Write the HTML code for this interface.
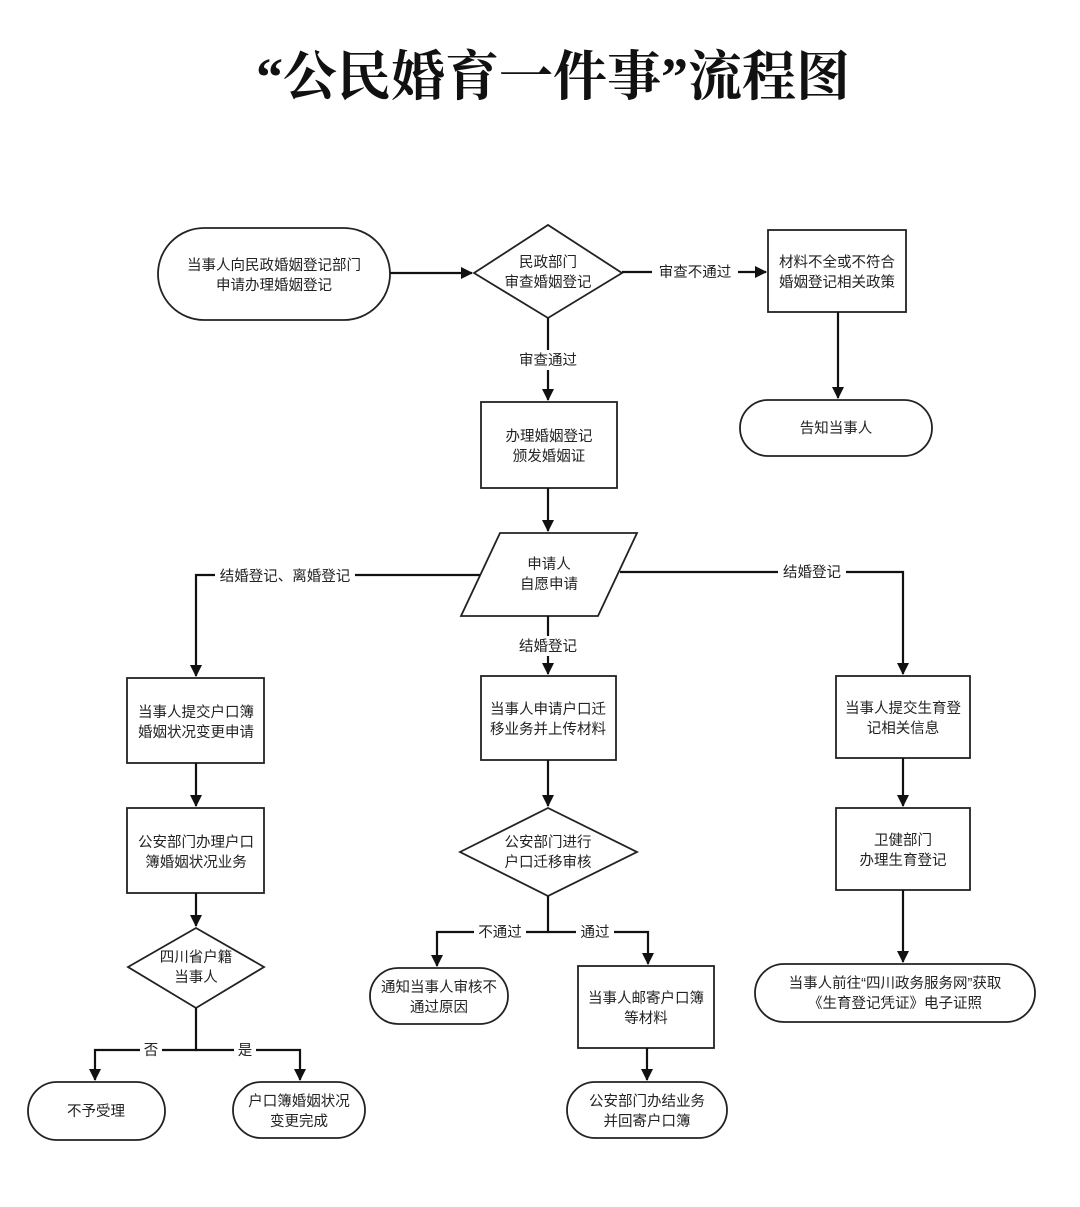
<!DOCTYPE html>
<html><head><meta charset="utf-8"><style>
html,body{margin:0;padding:0;background:#fff;}
svg{display:block;}
text{font-family:"Liberation Sans","Noto Sans CJK SC",sans-serif;font-size:14.5px;fill:#222;}
.t{font-family:"Liberation Serif","Noto Serif CJK SC",serif;font-size:54px;font-weight:bold;fill:#111;}
</style></head><body>
<svg width="1080" height="1207" viewBox="0 0 1080 1207" xmlns="http://www.w3.org/2000/svg">
<defs><marker id="a" markerWidth="12" markerHeight="12" refX="11" refY="6" orient="auto" markerUnits="userSpaceOnUse"><path d="M0,0 L12,6 L0,12 z" fill="#111"/></marker></defs>
<text class="t" x="553" y="95" text-anchor="middle">“公民婚育一件事”流程图</text>
<g fill="none" stroke="#222" stroke-width="1.8">
<rect x="158" y="228" width="232" height="92" rx="46"/>
<path d="M474,273 L548,225 L622,273 L548,318 Z"/>
<rect x="768" y="230" width="138" height="82"/>
<rect x="740" y="400" width="192" height="56" rx="28"/>
<rect x="481" y="402" width="136" height="86"/>
<path d="M500,533 L637,533 L598,616 L461,616 Z"/>
<rect x="127" y="678" width="137" height="85"/>
<rect x="127" y="808" width="137" height="85"/>
<path d="M128,967 L196,928 L264,967 L196,1008 Z"/>
<rect x="28" y="1082" width="137" height="58" rx="29"/>
<rect x="233" y="1082" width="132" height="56" rx="28"/>
<rect x="481" y="676" width="135" height="84"/>
<path d="M460,852 L548,808 L637,852 L548,896 Z"/>
<rect x="370" y="968" width="138" height="56" rx="28"/>
<rect x="578" y="966" width="136" height="82"/>
<rect x="567" y="1082" width="160" height="56" rx="28"/>
<rect x="836" y="676" width="134" height="82"/>
<rect x="836" y="808" width="134" height="82"/>
<rect x="755" y="964" width="280" height="58" rx="29"/>
</g>
<g fill="none" stroke="#111" stroke-width="2.2" marker-end="url(#a)">
<path d="M390,273 L472,273"/>
<path d="M622,272 L766,272"/>
<path d="M838,312 L838,398"/>
<path d="M548,318 L548,400"/>
<path d="M548,488 L548,531"/>
<path d="M480,575 L196,575 L196,676"/>
<path d="M620,572 L903,572 L903,674"/>
<path d="M548,616 L548,674"/>
<path d="M196,763 L196,806"/>
<path d="M196,893 L196,926"/>
<path d="M196,1008 L196,1050 L95,1050 L95,1080"/>
<path d="M196,1050 L300,1050 L300,1080"/>
<path d="M548,760 L548,806"/>
<path d="M548,896 L548,932 L437,932 L437,966"/>
<path d="M548,932 L648,932 L648,964"/>
<path d="M647,1048 L647,1080"/>
<path d="M903,758 L903,806"/>
<path d="M903,890 L903,962"/>
</g>
<g fill="#fff">
<rect x="652" y="262" width="86" height="20"/>
<rect x="514" y="350" width="68" height="20"/>
<rect x="215" y="566" width="140" height="20"/>
<rect x="778" y="562" width="68" height="20"/>
<rect x="514" y="636" width="68" height="20"/>
<rect x="140" y="1040" width="22" height="20"/>
<rect x="234" y="1040" width="22" height="20"/>
<rect x="474" y="922" width="52" height="20"/>
<rect x="576" y="922" width="38" height="20"/>
</g>
<g text-anchor="middle">
<text x="274" y="270">当事人向民政婚姻登记部门</text>
<text x="274" y="290">申请办理婚姻登记</text>
<text x="548" y="267">民政部门</text>
<text x="548" y="287">审查婚姻登记</text>
<text x="695" y="277">审查不通过</text>
<text x="837" y="267">材料不全或不符合</text>
<text x="837" y="287">婚姻登记相关政策</text>
<text x="836" y="433">告知当事人</text>
<text x="548" y="365">审查通过</text>
<text x="549" y="441">办理婚姻登记</text>
<text x="549" y="461">颁发婚姻证</text>
<text x="549" y="569">申请人</text>
<text x="549" y="589">自愿申请</text>
<text x="285" y="581">结婚登记、离婚登记</text>
<text x="812" y="577">结婚登记</text>
<text x="548" y="651">结婚登记</text>
<text x="196" y="717">当事人提交户口簿</text>
<text x="196" y="737">婚姻状况变更申请</text>
<text x="196" y="847">公安部门办理户口</text>
<text x="196" y="867">簿婚姻状况业务</text>
<text x="196" y="962">四川省户籍</text>
<text x="196" y="982">当事人</text>
<text x="151" y="1055">否</text>
<text x="245" y="1055">是</text>
<text x="96" y="1116">不予受理</text>
<text x="299" y="1106">户口簿婚姻状况</text>
<text x="299" y="1126">变更完成</text>
<text x="548" y="714">当事人申请户口迁</text>
<text x="548" y="734">移业务并上传材料</text>
<text x="548" y="847">公安部门进行</text>
<text x="548" y="867">户口迁移审核</text>
<text x="500" y="937">不通过</text>
<text x="595" y="937">通过</text>
<text x="439" y="992">通知当事人审核不</text>
<text x="439" y="1012">通过原因</text>
<text x="646" y="1003">当事人邮寄户口簿</text>
<text x="646" y="1023">等材料</text>
<text x="647" y="1106">公安部门办结业务</text>
<text x="647" y="1126">并回寄户口簿</text>
<text x="903" y="713">当事人提交生育登</text>
<text x="903" y="733">记相关信息</text>
<text x="903" y="845">卫健部门</text>
<text x="903" y="865">办理生育登记</text>
<text x="895" y="988">当事人前往“四川政务服务网”获取</text>
<text x="895" y="1008">《生育登记凭证》电子证照</text>
</g>
</svg>
</body></html>
